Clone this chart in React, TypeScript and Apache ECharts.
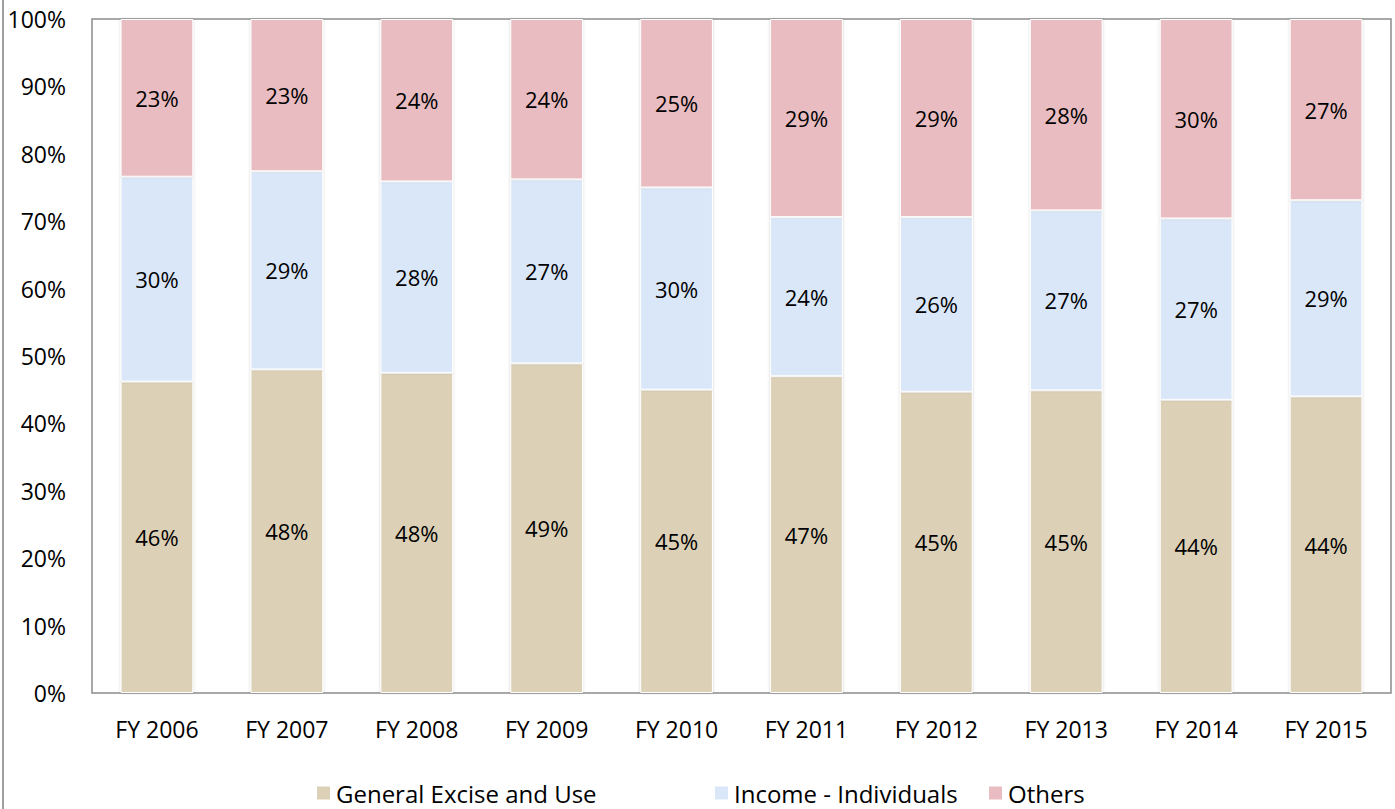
import React, { useEffect, useRef } from "react";
import * as echarts from "echarts";

const categories = ["FY 2006", "FY 2007", "FY 2008", "FY 2009", "FY 2010", "FY 2011", "FY 2012", "FY 2013", "FY 2014", "FY 2015"];
const seriesNames = ["General Excise and Use", "Income - Individuals", "Others"];
const generalExcise = [46.2, 48.0, 47.5, 48.9, 45.0, 47.0, 44.7, 44.9, 43.5, 44.0];
const incomeIndividuals = [30.4, 29.4, 28.4, 27.3, 30.0, 23.6, 25.9, 26.7, 26.9, 29.1];
const others = [23.4, 22.6, 24.1, 23.8, 25.0, 29.4, 29.4, 28.4, 29.6, 26.9];
const yTicks = [0, 10, 20, 30, 40, 50, 60, 70, 80, 90, 100];

const FONT = "'Open Sans', 'Noto Sans', sans-serif";
const legendLefts = [310, 708, 982];

export default function App() {
  const ref = useRef<HTMLDivElement>(null);
  useEffect(() => {
    if (!ref.current) return;
    const chart = echarts.init(ref.current, undefined, { renderer: "svg" });
    const label = {
      show: true,
      position: "inside" as const,
      color: "#000",
      fontSize: 22,
      fontFamily: FONT,
      formatter: (p: any) => Math.round(p.value) + "%",
    };
    const mk = (name: string, data: number[], color: string) => ({
      name,
      type: "bar" as const,
      stack: "total",
      data,
      barWidth: "56%",
      itemStyle: {
        color,
        borderColor: "#ffffff",
        borderWidth: 1,
        shadowColor: "rgba(0,0,0,0.18)",
        shadowBlur: 3,
      },
      label,
    });
    chart.setOption({
      animation: false,
      textStyle: { fontFamily: FONT },
      grid: {
        left: 92,
        top: 19,
        right: 4,
        bottom: 116,
        show: true,
        borderColor: "#8c8c8c",
        borderWidth: 1.5,
      },
      graphic: [
        {
          type: "line",
          shape: { x1: 3, y1: 0, x2: 3, y2: 809 },
          style: { stroke: "#a0a0a0", lineWidth: 2 },
        },
      ],
      legend: seriesNames.map((n, i) => ({
        bottom: -1,
        left: legendLefts[i],
        itemWidth: 15,
        itemHeight: 15,
        itemGap: 8,
        icon: "rect",
        textStyle: { fontSize: 24, color: "#000", fontFamily: FONT },
        data: [n],
      })),
      xAxis: {
        type: "category",
        data: categories,
        axisLine: { show: false },
        axisTick: { show: false },
        axisLabel: { color: "#000", fontSize: 23, margin: 24, fontFamily: FONT },
      },
      yAxis: {
        type: "value",
        min: yTicks[0],
        max: yTicks[yTicks.length - 1],
        interval: 10,
        axisLine: { show: false },
        axisTick: { show: false },
        splitLine: { show: false },
        axisLabel: { color: "#000", fontSize: 23, margin: 26, fontFamily: FONT, formatter: "{value}%" },
      },
      series: [
        mk(seriesNames[0], generalExcise, "#dcd0b6"),
        mk(seriesNames[1], incomeIndividuals, "#d9e7f8"),
        mk(seriesNames[2], others, "#e8bcc0"),
      ],
    });
    return () => chart.dispose();
  }, []);
  return <div ref={ref} style={{ width: 1395, height: 809, position: "absolute", left: 0, top: 0 }} />;
}
